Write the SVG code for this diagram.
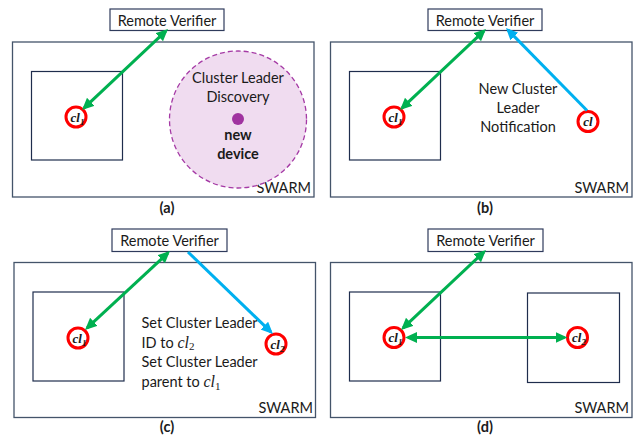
<svg xmlns="http://www.w3.org/2000/svg" width="636" height="441" viewBox="0 0 636 441">
<style>
.swarm{fill:#fff;stroke:#44546a;stroke-width:1.3}
.cluster{fill:#fff;stroke:#1f2d4d;stroke-width:1.2}
.rv{fill:#fff;stroke:#2f3b5c;stroke-width:1.2}
.t{font-family:Lato,"Liberation Sans",sans-serif;font-size:14.5px;fill:#1a1a1a}
.b{font-weight:bold}
.m{font-family:"Liberation Serif",serif;font-style:italic;font-size:16px;fill:#1a1a1a}
.ms{font-family:"Liberation Serif",serif;font-style:normal;font-size:11px}
.cl{fill:#fff;stroke:#ff0000;stroke-width:3}
.clt{font-family:"Liberation Serif",serif;font-style:italic;font-weight:bold;font-size:13px;fill:#1a1a1a}
.cls{font-size:9px}
.g{stroke:#00b050;stroke-width:3;fill:none;marker-start:url(#ag);marker-end:url(#ag)}
.bl{stroke:#00b0f0;stroke-width:3;fill:none;marker-end:url(#ab)}
</style>
<defs>
<marker id="ag" markerUnits="userSpaceOnUse" markerWidth="14" markerHeight="12" refX="9" refY="5.5" orient="auto-start-reverse"><path d="M0,0 L12,5.5 L0,11 z" fill="#00b050"/></marker>
<marker id="ab" markerUnits="userSpaceOnUse" markerWidth="14" markerHeight="12" refX="9" refY="5.5" orient="auto-start-reverse"><path d="M0,0 L12,5.5 L0,11 z" fill="#00b0f0"/></marker>
</defs>

<!-- Panel (a) -->
<g id="a-swarm"><rect class="swarm" x="12.5" y="42" width="301.5" height="155"/><text class="t" x="311" y="193" text-anchor="end">SWARM</text></g>
<g id="a-cluster"><rect class="cluster" x="31.5" y="71.5" width="91" height="88.5"/></g>
<g id="a-rv"><rect class="rv" x="110" y="9" width="114" height="21.5"/><text class="t" x="167" y="25.5" text-anchor="middle">Remote Verifier</text></g>
<g id="a-cl1"><circle class="cl" cx="76" cy="117" r="10"/><text class="clt" x="70.5" y="121.5">cl<tspan class="cls" dy="3">1</tspan></text></g>
<g id="a-discovery"><circle cx="238" cy="119.5" r="68.5" fill="#f0dcf0" stroke="#a53aa5" stroke-width="1.3" stroke-dasharray="5,3"/><circle cx="238" cy="119" r="6" fill="#a033a0"/><text class="t" x="238" y="83" text-anchor="middle">Cluster Leader</text><text class="t" x="238" y="101.5" text-anchor="middle">Discovery</text><text class="t b" x="238" y="140" text-anchor="middle">new</text><text class="t b" x="238" y="158.5" text-anchor="middle">device</text></g>
<g id="a-label"><text class="t b" x="167" y="213" text-anchor="middle">(a)</text></g>

<!-- Panel (b) -->
<g id="b-swarm"><rect class="swarm" x="330.5" y="42" width="301.5" height="155"/><text class="t" x="629" y="193" text-anchor="end">SWARM</text></g>
<g id="b-cluster"><rect class="cluster" x="349.5" y="71.5" width="91" height="88.5"/></g>
<g id="b-rv"><rect class="rv" x="428" y="9" width="114" height="21.5"/><text class="t" x="485" y="25.5" text-anchor="middle">Remote Verifier</text></g>
<g id="b-cl1"><circle class="cl" cx="394" cy="117" r="10"/><text class="clt" x="388.5" y="121.5">cl<tspan class="cls" dy="3">1</tspan></text></g>
<g id="b-cl"><circle class="cl" cx="588" cy="121.5" r="10"/><text class="clt" x="588" y="125.5" text-anchor="middle">cl</text></g>
<g id="b-note"><text class="t" x="518" y="94" text-anchor="middle">New Cluster</text><text class="t" x="518" y="113" text-anchor="middle">Leader</text><text class="t" x="518" y="131.5" text-anchor="middle">Notification</text></g>
<g id="b-label"><text class="t b" x="485" y="213" text-anchor="middle">(b)</text></g>

<!-- Panel (c) -->
<g id="c-swarm"><rect class="swarm" x="14" y="262.5" width="301.5" height="155"/><text class="t" x="313" y="413" text-anchor="end">SWARM</text></g>
<g id="c-cluster"><rect class="cluster" x="33" y="292" width="91" height="89"/></g>
<g id="c-rv"><rect class="rv" x="112" y="229" width="115" height="22.5"/><text class="t" x="169.5" y="246" text-anchor="middle">Remote Verifier</text></g>
<g id="c-cl1"><circle class="cl" cx="78" cy="338" r="10"/><text class="clt" x="72.5" y="342.5">cl<tspan class="cls" dy="3">1</tspan></text></g>
<g id="c-cl2"><circle class="cl" cx="276" cy="344" r="10"/><text class="clt" x="270.5" y="348.5">cl<tspan class="cls" dy="3">2</tspan></text></g>
<g id="c-note"><text class="t" x="141.5" y="327.5">Set Cluster Leader</text><text class="t" x="141.5" y="347.5">ID to <tspan class="m">cl<tspan class="ms" dy="2.5">2</tspan></tspan></text><text class="t" x="141.5" y="367">Set Cluster Leader</text><text class="t" x="141.5" y="387">parent to <tspan class="m">cl<tspan class="ms" dy="2.5">1</tspan></tspan></text></g>
<g id="c-label"><text class="t b" x="167" y="432" text-anchor="middle">(c)</text></g>

<!-- Panel (d) -->
<g id="d-swarm"><rect class="swarm" x="330.5" y="262.5" width="301.5" height="155"/><text class="t" x="629" y="413" text-anchor="end">SWARM</text></g>
<g id="d-cluster1"><rect class="cluster" x="349.5" y="292" width="91" height="89"/></g>
<g id="d-cluster2"><rect class="cluster" x="527.5" y="293" width="92" height="89.5"/></g>
<g id="d-rv"><rect class="rv" x="428" y="229" width="115" height="22.5"/><text class="t" x="485.5" y="246" text-anchor="middle">Remote Verifier</text></g>
<g id="d-cl1"><circle class="cl" cx="394" cy="337.5" r="10"/><text class="clt" x="388.5" y="342">cl<tspan class="cls" dy="3">1</tspan></text></g>
<g id="d-cl2"><circle class="cl" cx="577.5" cy="337.5" r="10"/><text class="clt" x="572" y="342">cl<tspan class="cls" dy="3">2</tspan></text></g>
<g id="d-label"><text class="t b" x="485" y="432" text-anchor="middle">(d)</text></g>

<!-- Connectors -->
<g id="connectors">
<line class="g" x1="165.8" y1="31.1" x2="84.2" y2="107.9"/>
<line class="g" x1="483.8" y1="31.1" x2="402.2" y2="107.9"/>
<line class="bl" x1="587" y1="110.5" x2="508.1" y2="30.1"/>
<line class="g" x1="167.8" y1="253.1" x2="87.2" y2="327.9"/>
<line class="bl" x1="188" y1="252" x2="270.8" y2="331.9"/>
<line class="g" x1="483.8" y1="252.1" x2="403.2" y2="327.9"/>
<line class="g" x1="408" y1="337.5" x2="564.5" y2="337.5"/>
</g>
</svg>
